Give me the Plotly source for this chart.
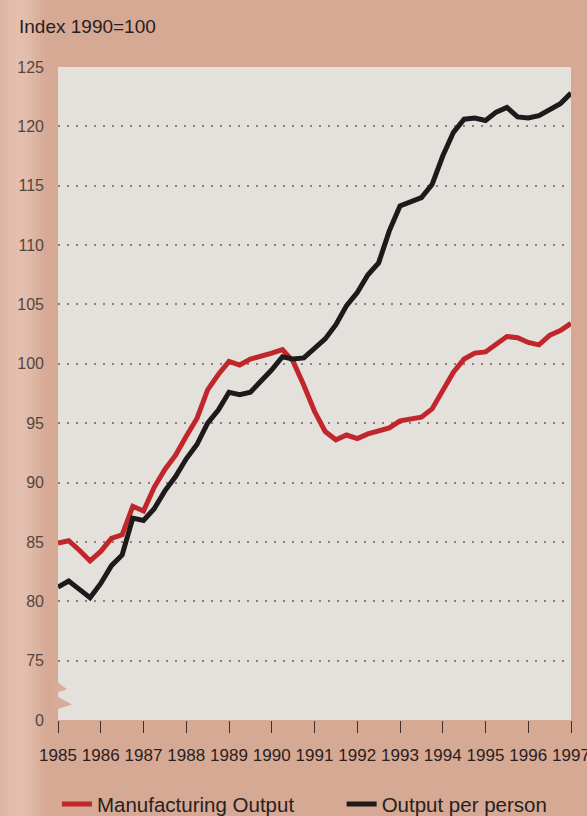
import plotly.graph_objects as go

# quarterly data, 1985 Q1 .. 1997 Q1
start_year = 1985
manufacturing_output = [
    84.9, 85.1, 84.3, 83.4, 84.2, 85.3, 85.6, 88.0, 87.6, 89.6,
    91.1, 92.3, 93.9, 95.4, 97.8, 99.1, 100.2, 99.9, 100.4, 100.6,
    100.9, 101.2, 100.2, 98.2, 96.0, 94.3, 93.6, 94.0, 93.7, 94.1,
    94.3, 94.6, 95.2, 95.3, 95.5, 96.2, 97.8, 99.3, 100.4, 100.9,
    101.0, 101.6, 102.3, 102.2, 101.8, 101.6, 102.4, 102.8, 103.4,
]
output_per_person = [
    81.2, 81.7, 81.0, 80.3, 81.5, 83.0, 83.9, 87.0, 86.8, 87.8,
    89.3, 90.5, 92.0, 93.2, 95.0, 96.1, 97.6, 97.4, 97.6, 98.5,
    99.5, 100.6, 100.4, 100.5, 101.3, 102.1, 103.3, 104.9, 106.0, 107.5,
    108.5, 111.2, 113.3, 113.6, 114.0, 115.1, 117.5, 119.5, 120.6, 120.7,
    120.5, 121.2, 121.6, 120.8, 120.7, 120.9, 121.4, 121.9, 122.8,
]
x_years = [start_year + i / 4 for i in range(len(manufacturing_output))]

year_ticks = list(range(1985, 1998))
y_tickvals = [70, 75, 80, 85, 90, 95, 100, 105, 110, 115, 120, 125]
y_ticktext = ["0", "75", "80", "85", "90", "95", "100", "105", "110", "115", "120", "125"]
grid_vals = [75, 80, 85, 90, 95, 100, 105, 110, 115, 120]

BG = "#d6a995"
PLOT_BG = "#e4e0dc"
RED = "#c0262a"
BLACK = "#1c1a1a"
TEXT = "#2a2020"

W, H = 587, 816
ML, MR, MT, MB = 58, 16, 67, 96
PW = W - ML - MR

fig = go.Figure()
fig.add_trace(go.Scatter(x=x_years, y=manufacturing_output, mode="lines",
                         name="Manufacturing Output", legend="legend",
                         line=dict(color=RED, width=5)))
fig.add_trace(go.Scatter(x=x_years, y=output_per_person, mode="lines",
                         name="Output per person", legend="legend2",
                         line=dict(color=BLACK, width=5)))

shapes = []
# lighter fold stripe on the left (pixel positions -> paper units)
stripe = [(0, 4, 0.22), (4, 8, 0.28), (8, 12, 0.32), (12, 16, 0.35), (16, 20, 0.36),
          (20, 24, 0.35), (24, 28, 0.32), (28, 32, 0.27), (32, 36, 0.2),
          (36, 40, 0.13), (40, 44, 0.07), (44, 48, 0.03)]
for p0, p1, op in stripe:
    shapes.append(dict(type="rect", xref="paper", yref="paper",
                       x0=(p0 - ML) / PW, x1=(p1 - ML) / PW,
                       y0=-0.3, y1=1.2, fillcolor="#fbe6dc", opacity=op,
                       line=dict(width=0), layer="below"))
# axis break zigzag
shapes.append(dict(type="path", xref="paper", yref="y",
                   path="M -0.01 73.5 L 0.0175 72.6 L -0.01 72.2 L 0.027 71.3 L -0.01 70.8 Z",
                   fillcolor="#d8ac9a", line=dict(width=0), layer="above"))

legend_common = dict(orientation="h", xref="container", yref="container",
                     xanchor="left", y=0.0145, yanchor="middle",
                     font=dict(size=20.5, color=TEXT), bgcolor="rgba(0,0,0,0)",
                     itemwidth=30)

fig.update_layout(
    width=W, height=H,
    paper_bgcolor=BG, plot_bgcolor=PLOT_BG,
    margin=dict(l=ML, r=MR, t=MT, b=MB, autoexpand=False),
    font=dict(family="Liberation Sans, Arial, sans-serif", color=TEXT, size=16),
    showlegend=True,
    legend=dict(x=0.097, **legend_common),
    legend2=dict(x=0.582, **legend_common),
    shapes=shapes,
    annotations=[dict(text="Index 1990=100", xref="paper", yref="paper",
                      x=(17 - ML) / PW, y=1.0 + (MT - 26) / (H - MT - MB),
                      xanchor="left", yanchor="middle",
                      showarrow=False, font=dict(size=19, color=TEXT))],
)
fig.update_xaxes(range=[1985, 1997], tickvals=year_ticks,
                 ticktext=[str(y) for y in year_ticks],
                 showgrid=False, zeroline=False, showline=False,
                 ticks="outside", ticklen=12, tickwidth=1, tickcolor="#3a3030",
                 ticklabelstandoff=8, ticklabeloverflow="allow", automargin=False,
                 tickfont=dict(size=17, color=TEXT), fixedrange=True)
fig.update_yaxes(range=[70, 125], tickvals=y_tickvals, ticktext=y_ticktext,
                 showgrid=False, zeroline=False, showline=False, ticks="",
                 ticklabelstandoff=13, automargin=False,
                 tickfont=dict(size=16, color="#54463f"),
                 minor=dict(tickvals=grid_vals, showgrid=True, gridcolor="#9a7a6e",
                            griddash="1.5px,7.5px", gridwidth=1.5, ticks=""),
                 fixedrange=True)

fig.write_html("out.html", config={"displayModeBar": False},
               post_script="document.body.style.margin='0';")
